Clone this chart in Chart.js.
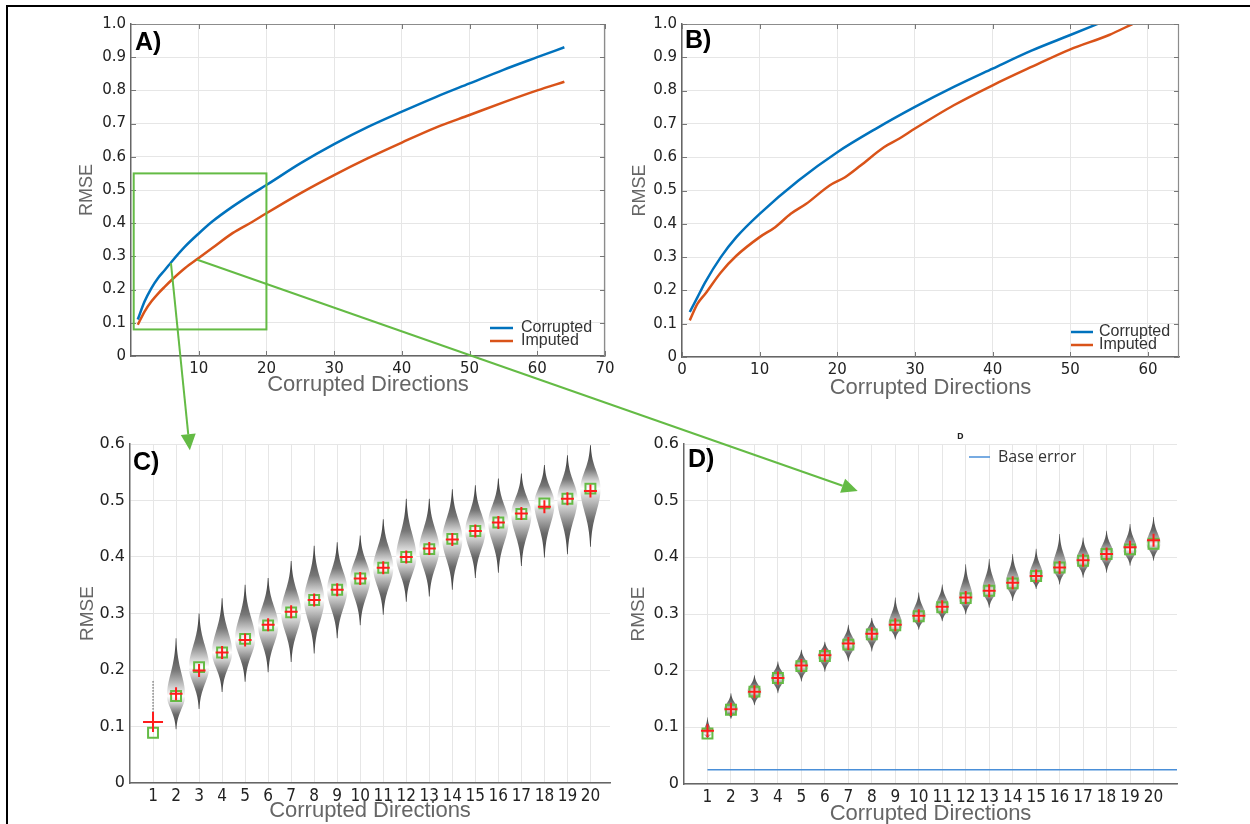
<!DOCTYPE html>
<html lang="en">
<head>
<meta charset="utf-8">
<title>RMSE vs Corrupted Directions</title>
<script src="https://cdn.jsdelivr.net/npm/chart.js@4.4.1/dist/chart.umd.min.js"></script>
<style>
  html, body { margin: 0; padding: 0; background: #fff; }
  body { position: relative; width: 1250px; height: 824px; overflow: hidden; }
  canvas { position: absolute; }
  .frame-top { position: absolute; left: 6px; top: 5px; width: 1244px; height: 2px; background: #000; }
  .frame-left { position: absolute; left: 6px; top: 5px; width: 2px; height: 819px; background: #000; }
  #overlay { left: 0; top: 0; z-index: 5; pointer-events: none; }
</style>
</head>
<body>
<div class="frame-top"></div>
<div class="frame-left"></div>
<canvas id="chartA" width="562" height="396" style="left:60px;top:8px"></canvas>
<canvas id="chartB" width="583" height="396" style="left:612px;top:8px"></canvas>
<canvas id="chartC" width="565" height="402" style="left:60px;top:428px"></canvas>
<canvas id="chartD" width="583" height="402" style="left:612px;top:428px"></canvas>
<canvas id="overlay" width="1250" height="824"></canvas>
<script>
// Datos de los paneles A y B (curvas medias)
const seriesLabels = ['Corrupted', 'Imputed'];

const aDirections = [1, 2, 3, 4, 5, 6, 8, 10, 12, 15, 18, 20, 25, 30, 35, 40, 45, 50, 55, 60, 64];
const aCorrupted = [0.110, 0.164, 0.204, 0.235, 0.259, 0.284, 0.330, 0.369, 0.405, 0.450, 0.490, 0.515, 0.580, 0.638, 0.690, 0.736, 0.780, 0.821, 0.862, 0.900, 0.930];
const aImputed = [0.094, 0.134, 0.164, 0.188, 0.209, 0.229, 0.265, 0.295, 0.325, 0.370, 0.405, 0.430, 0.490, 0.545, 0.596, 0.643, 0.688, 0.726, 0.764, 0.800, 0.826];

const bDirCorrupted = [1, 2, 3, 5, 7, 10, 15, 20, 25, 30, 35, 40, 45, 50, 54];
const bCorrupted = [0.135, 0.180, 0.225, 0.300, 0.360, 0.430, 0.530, 0.615, 0.686, 0.751, 0.811, 0.866, 0.920, 0.967, 1.005];
const bDirImputed = [1, 2, 3, 5, 7, 10, 12, 14, 16, 19, 21, 23, 26, 28, 30, 35, 40, 45, 50, 55, 58];
const bImputed = [0.110, 0.160, 0.190, 0.254, 0.304, 0.360, 0.390, 0.430, 0.460, 0.515, 0.540, 0.575, 0.630, 0.656, 0.686, 0.756, 0.816, 0.871, 0.924, 0.967, 1.000];

// Datos de los paneles C y D (distribuciones por número de direcciones)
const directions = [1, 2, 3, 4, 5, 6, 7, 8, 9, 10, 11, 12, 13, 14, 15, 16, 17, 18, 19, 20];

const cMean = [0.089, 0.154, 0.205, 0.231, 0.255, 0.279, 0.302, 0.324, 0.342, 0.362, 0.381, 0.400, 0.414, 0.432, 0.446, 0.461, 0.476, 0.495, 0.503, 0.521];
const cMedian = [0.108, 0.158, 0.199, 0.231, 0.253, 0.280, 0.303, 0.324, 0.342, 0.362, 0.381, 0.400, 0.415, 0.431, 0.446, 0.461, 0.477, 0.489, 0.503, 0.517];
const cLow = [0.090, 0.095, 0.131, 0.161, 0.179, 0.196, 0.214, 0.229, 0.256, 0.279, 0.298, 0.321, 0.330, 0.342, 0.363, 0.372, 0.384, 0.399, 0.405, 0.418];
const cHigh = [0.180, 0.256, 0.300, 0.327, 0.351, 0.363, 0.393, 0.420, 0.426, 0.438, 0.467, 0.503, 0.503, 0.520, 0.527, 0.539, 0.548, 0.563, 0.580, 0.598];
const cDensity = [0.04, 0.9, 1, 1, 1, 1, 1, 1, 1, 1, 1, 1, 1, 1, 1, 1, 1, 1, 1, 1];

const dMean = [0.089, 0.131, 0.163, 0.187, 0.208, 0.226, 0.246, 0.264, 0.280, 0.296, 0.312, 0.328, 0.341, 0.354, 0.367, 0.382, 0.394, 0.406, 0.414, 0.424];
const dMedian = [0.094, 0.132, 0.163, 0.187, 0.209, 0.227, 0.248, 0.265, 0.281, 0.297, 0.313, 0.329, 0.341, 0.355, 0.367, 0.382, 0.395, 0.406, 0.418, 0.430];
const dLow = [0.080, 0.115, 0.139, 0.160, 0.181, 0.198, 0.216, 0.234, 0.255, 0.272, 0.287, 0.299, 0.311, 0.323, 0.344, 0.352, 0.364, 0.373, 0.385, 0.394];
const dHigh = [0.118, 0.160, 0.192, 0.216, 0.237, 0.251, 0.281, 0.293, 0.329, 0.338, 0.352, 0.388, 0.397, 0.406, 0.415, 0.441, 0.435, 0.447, 0.459, 0.471];
const dDensity = [0.6, 1, 1, 1, 1, 1, 1, 1, 1, 1, 1, 1, 1, 1, 1, 1, 1, 1, 1, 1];
const baseError = 0.025;

// Ejes
const aXTicks = [10, 20, 30, 40, 50, 60, 70];
const bXTicks = [0, 10, 20, 30, 40, 50, 60];
const abYTicks = [0, 0.1, 0.2, 0.3, 0.4, 0.5, 0.6, 0.7, 0.8, 0.9, 1.0];
const cdYTicks = [0, 0.1, 0.2, 0.3, 0.4, 0.5, 0.6];

// Zona ampliada en A y flechas hacia C y D (coordenadas de datos)
const zoomBox = { x: [0.4, 20], y: [0.08, 0.55] };
const arrowToC = { from: [5.9, 0.28], to: [2.6, 0.589] };
const arrowToD = { from: [9.8, 0.29], to: [7.4, 0.517] };

const blue = '#0072bd';
const orange = '#d95319';
const green = '#64bb45';
const red = '#ff1c1c';
const sans = '"Liberation Sans", Arial, Helvetica, sans-serif';

const fmtRmse = v => (v === 0 ? '0' : v.toFixed(1));

function axes(o) {
    return {
        x: {
            type: 'linear',
            min: o.xMin,
            max: o.xMax,
            afterBuildTicks: s => { s.ticks = o.xTicks.map(value => ({ value })); },
            afterFit: s => { s.height = o.xHeight; s.paddingLeft = 0; s.paddingRight = 0; },
            grid: { color: '#e6e6e6', drawTicks: false },
            border: { color: '#666', width: 1.5 },
            ticks: { padding: o.xTickPad, color: '#222', font: o.xFont, maxRotation: 0, autoSkip: false, callback: v => String(v) },
            title: {
                display: true, text: 'Corrupted Directions', color: '#666',
                font: { family: sans, size: 22 }, padding: { top: 0, bottom: o.xTitlePad }
            }
        },
        y: {
            type: 'linear',
            min: 0,
            max: o.yMax,
            afterBuildTicks: s => { s.ticks = o.yTicks.map(value => ({ value })); },
            afterFit: s => { s.width = o.yWidth; s.paddingTop = 0; s.paddingBottom = 0; },
            grid: { color: '#e6e6e6', drawTicks: false },
            border: { color: '#666', width: 1.5 },
            ticks: { padding: 5, color: '#222', font: o.yFont, autoSkip: false, callback: fmtRmse },
            title: {
                display: true, text: 'RMSE', color: '#666',
                font: { family: sans, size: o.yTitleSize }, padding: { top: o.yTitlePad, bottom: 0 }
            }
        }
    };
}

// Violines: contorno suavizado alrededor de la media y sombreado en gris
function drawViolins(ctx, area, x, y, v) {
    const unit = x.getPixelForValue(1) - x.getPixelForValue(0);
    ctx.save();
    ctx.beginPath();
    ctx.rect(area.left, area.top, area.width, area.height);
    ctx.clip();
    v.low.forEach((lo, i) => {
        const hi = v.high[i];
        const mid = v.center[i];
        const cx = x.getPixelForValue(v.cats[i]);
        const yLo = y.getPixelForValue(lo);
        const yHi = y.getPixelForValue(hi);
        if (v.density[i] < 0.1) {
            // muy pocos valores: puntos sueltos
            ctx.fillStyle = '#444';
            for (let py = yHi; py <= yLo; py += 3) ctx.fillRect(cx - 0.6, py, 1.2, 1.2);
            return;
        }
        const hw = v.halfWidth * unit * v.density[i];
        const sUp = (hi - mid) / 2.6;
        const sDn = (mid - lo) / 2.6;
        const pts = [];
        for (let k = 0; k <= 60; k++) {
            const val = lo + (hi - lo) * k / 60;
            const d = val - mid;
            const s = d > 0 ? sUp : sDn;
            pts.push([y.getPixelForValue(val), hw * Math.exp(-0.5 * (d / s) ** 2)]);
        }
        ctx.beginPath();
        pts.forEach(([py, w], k) => (k ? ctx.lineTo(cx + w, py) : ctx.moveTo(cx + w, py)));
        for (let k = pts.length - 1; k >= 0; k--) ctx.lineTo(cx - pts[k][1], pts[k][0]);
        ctx.closePath();
        const tc = (mid - lo) / (hi - lo);
        const g = ctx.createLinearGradient(0, yLo, 0, yHi);
        v.stops(tc).forEach(([p, c]) => g.addColorStop(Math.min(1, Math.max(0, p)), c));
        ctx.fillStyle = g;
        ctx.fill();
    });
    ctx.restore();
}

const decor = {
    id: 'decor',
    beforeDatasetsDraw(chart, args, o) {
        const { ctx, chartArea, scales: { x, y } } = chart;
        if (o.violins) drawViolins(ctx, chartArea, x, y, o.violins);
    },
    afterDatasetsDraw(chart, args, o) {
        const { ctx, chartArea: a, scales: { x, y } } = chart;
        ctx.save();
        if (o.frame) {
            // marco superior y derecho con marcas hacia dentro
            ctx.strokeStyle = '#8c8c8c';
            ctx.lineWidth = 1.2;
            ctx.beginPath();
            ctx.moveTo(a.left, a.top + 0.5);
            ctx.lineTo(a.right - 0.5, a.top + 0.5);
            ctx.lineTo(a.right - 0.5, a.bottom);
            ctx.stroke();
            ctx.strokeStyle = '#777';
            ctx.lineWidth = 1;
            ctx.beginPath();
            y.ticks.forEach(t => {
                const py = Math.round(y.getPixelForValue(t.value)) + 0.5;
                ctx.moveTo(a.left, py); ctx.lineTo(a.left + 5, py);
                ctx.moveTo(a.right, py); ctx.lineTo(a.right - 5, py);
            });
            x.ticks.forEach(t => {
                const px = Math.round(x.getPixelForValue(t.value)) + 0.5;
                ctx.moveTo(px, a.bottom); ctx.lineTo(px, a.bottom - 5);
                ctx.moveTo(px, a.top); ctx.lineTo(px, a.top + 5);
            });
            ctx.stroke();
        }
        if (o.box) {
            ctx.strokeStyle = green;
            ctx.lineWidth = 2;
            const x0 = x.getPixelForValue(o.box.x[0]);
            const x1 = x.getPixelForValue(o.box.x[1]);
            const y0 = y.getPixelForValue(o.box.y[0]);
            const y1 = y.getPixelForValue(o.box.y[1]);
            ctx.strokeRect(x0, y1, x1 - x0, y0 - y1);
        }
        if (o.legend) {
            const L = o.legend;
            const x0 = L.anchor === 'left' ? a.left + L.dx : a.right - L.dx;
            const y0 = L.anchor === 'left' ? a.top + L.dy : a.bottom - L.dy;
            ctx.font = L.font;
            ctx.textBaseline = 'middle';
            L.items.forEach((di, k) => {
                const ds = chart.data.datasets[di];
                const py = y0 + k * L.row;
                ctx.strokeStyle = ds.borderColor;
                ctx.lineWidth = L.lineWidth;
                ctx.beginPath();
                ctx.moveTo(x0, py);
                ctx.lineTo(x0 + L.len, py);
                ctx.stroke();
                ctx.fillStyle = '#333';
                ctx.fillText(ds.label, x0 + L.len + L.gap, py);
            });
        }
        if (o.note) {
            ctx.font = 'bold 9px "Open Sans", sans-serif';
            ctx.fillStyle = '#222';
            ctx.textBaseline = 'middle';
            ctx.fillText(o.note.text, a.left + o.note.dx, a.top + o.note.dy);
        }
        // letra del panel
        ctx.font = 'bold 25px ' + sans;
        ctx.fillStyle = '#000';
        ctx.textBaseline = 'alphabetic';
        ctx.fillText(o.letter, a.left + o.letterDx, a.top + o.letterDy);
        ctx.restore();
    }
};

function xy(xs, ys) {
    return xs.map((x, i) => ({ x, y: ys[i] }));
}

function lineDataset(label, xs, ys, color) {
    return {
        label,
        data: xy(xs, ys),
        showLine: true,
        borderColor: color,
        backgroundColor: color,
        borderWidth: 2.5,
        pointRadius: 0,
        cubicInterpolationMode: 'monotone'
    };
}

const baseOptions = {
    responsive: false,
    animation: false,
    events: [],
    plugins: { legend: { display: false }, tooltip: { enabled: false } }
};

const tickFontAB = { family: '"DejaVu Sans", sans-serif', size: 15 };

// Panel A
const chartA = new Chart(document.getElementById('chartA'), {
    type: 'scatter',
    data: {
        datasets: [
            lineDataset(seriesLabels[0], aDirections, aCorrupted, blue),
            lineDataset(seriesLabels[1], aDirections, aImputed, orange)
        ]
    },
    options: {
        ...baseOptions,
        layout: { padding: { top: 16, right: 17, left: 0, bottom: 0 } },
        scales: axes({
            xMin: 0, xMax: 70, xTicks: aXTicks, xHeight: 48, xTickPad: 4, xFont: tickFontAB, xTitlePad: 6,
            yMax: 1, yTicks: abYTicks, yWidth: 71, yFont: tickFontAB, yTitleSize: 18, yTitlePad: 16
        }),
        plugins: {
            ...baseOptions.plugins,
            decor: {
                letter: 'A)', letterDx: 4, letterDy: 26, frame: true, box: zoomBox,
                legend: { anchor: 'right', dx: 115, dy: 28, len: 23, gap: 8, row: 13, lineWidth: 2.5, items: [0, 1], font: '16px ' + sans }
            }
        }
    },
    plugins: [decor]
});

// Panel B
const chartB = new Chart(document.getElementById('chartB'), {
    type: 'scatter',
    data: {
        datasets: [
            lineDataset(seriesLabels[0], bDirCorrupted, bCorrupted, blue),
            lineDataset(seriesLabels[1], bDirImputed, bImputed, orange)
        ]
    },
    options: {
        ...baseOptions,
        layout: { padding: { top: 16, right: 16, left: 0, bottom: 0 } },
        scales: axes({
            xMin: 0, xMax: 64, xTicks: bXTicks, xHeight: 47, xTickPad: 4, xFont: tickFontAB, xTitlePad: 3,
            yMax: 1, yTicks: abYTicks, yWidth: 70, yFont: tickFontAB, yTitleSize: 18, yTitlePad: 17
        }),
        plugins: {
            ...baseOptions.plugins,
            decor: {
                letter: 'B)', letterDx: 3, letterDy: 24, frame: true,
                legend: { anchor: 'right', dx: 108, dy: 25, len: 22, gap: 6, row: 13, lineWidth: 2.5, items: [0, 1], font: '16px ' + sans }
            }
        }
    },
    plugins: [decor]
});

const tickFontCDx = { family: '"Liberation Sans Narrow", "DejaVu Sans Condensed", sans-serif', size: 17 };
const tickFontCDy = { family: '"DejaVu Sans", sans-serif', size: 16 };

function pointDatasets(median, mean, bigFirst) {
    return [
        {
            label: 'median',
            data: xy(directions, median),
            pointStyle: 'cross',
            pointRadius: c => (bigFirst && c.dataIndex === 0 ? 10 : 6.5),
            borderColor: red,
            borderWidth: 2,
            showLine: false
        },
        {
            label: 'mean',
            data: xy(directions, mean),
            pointStyle: 'rect',
            pointRadius: 7,
            borderColor: green,
            backgroundColor: 'rgba(0,0,0,0)',
            borderWidth: 2,
            showLine: false
        }
    ];
}

// Panel C
const chartC = new Chart(document.getElementById('chartC'), {
    type: 'scatter',
    data: { datasets: pointDatasets(cMedian, cMean, true) },
    options: {
        ...baseOptions,
        layout: { padding: { top: 16, right: 15, left: 0, bottom: 0 } },
        scales: axes({
            xMin: 0, xMax: 20.85, xTicks: directions, xHeight: 47, xTickPad: 3, xFont: tickFontCDx, xTitlePad: 6,
            yMax: 0.6, yTicks: cdYTicks, yWidth: 70, yFont: tickFontCDy, yTitleSize: 19, yTitlePad: 16
        }),
        plugins: {
            ...baseOptions.plugins,
            decor: {
                letter: 'C)', letterDx: 3, letterDy: 26,
                violins: {
                    cats: directions, low: cLow, high: cHigh, center: cMean, density: cDensity, halfWidth: 0.44,
                    stops: tc => [[0, '#3a3a3a'], [tc * 0.45, '#6a6a6a'], [tc - 0.07, '#d4d4d4'], [tc, '#ffffff'],
                                  [tc + 0.06, '#e0e0e0'], [tc + (1 - tc) * 0.45, '#777777'], [1, '#333333']]
                }
            }
        }
    },
    plugins: [decor]
});

// Panel D
const chartD = new Chart(document.getElementById('chartD'), {
    type: 'scatter',
    data: {
        datasets: [
            ...pointDatasets(dMedian, dMean, false),
            {
                label: 'Base error',
                data: [{ x: directions[0], y: baseError }, { x: 21, y: baseError }],
                showLine: true,
                borderColor: '#4a8fd8',
                borderWidth: 1.5,
                pointRadius: 0
            }
        ]
    },
    options: {
        ...baseOptions,
        layout: { padding: { top: 16, right: 18, left: 0, bottom: 0 } },
        scales: axes({
            xMin: 0, xMax: 21, xTicks: directions, xHeight: 46, xTickPad: 3, xFont: tickFontCDx, xTitlePad: 3,
            yMax: 0.6, yTicks: cdYTicks, yWidth: 72, yFont: tickFontCDy, yTitleSize: 19, yTitlePad: 15
        }),
        plugins: {
            ...baseOptions.plugins,
            decor: {
                letter: 'D)', letterDx: 4, letterDy: 23,
                note: { text: 'D', dx: 273, dy: -8 },
                legend: { anchor: 'left', dx: 285, dy: 13, len: 21, gap: 8, row: 0, lineWidth: 1.5, items: [2], font: '16px "Open Sans", sans-serif' },
                violins: {
                    cats: directions, low: dLow, high: dHigh, center: dMean, density: dDensity, halfWidth: 0.3,
                    stops: tc => [[0, '#444444'], [tc * 0.5, '#6e6e6e'], [tc - 0.08, '#bdbdbd'], [tc, '#f4f4f4'],
                                  [tc + 0.08, '#bdbdbd'], [tc + (1 - tc) * 0.5, '#6a6a6a'], [1, '#3c3c3c']]
                }
            }
        }
    },
    plugins: [decor]
});

// Flechas verdes desde el recuadro de A hacia C y D
function pagePoint(chart, p) {
    const c = chart.canvas;
    return [c.offsetLeft + chart.scales.x.getPixelForValue(p[0]), c.offsetTop + chart.scales.y.getPixelForValue(p[1])];
}

function drawArrow(ctx, from, to) {
    const [x0, y0] = from;
    const [x1, y1] = to;
    const ang = Math.atan2(y1 - y0, x1 - x0);
    const head = 16;
    const half = 7.5;
    const bx = x1 - head * Math.cos(ang);
    const by = y1 - head * Math.sin(ang);
    ctx.strokeStyle = green;
    ctx.fillStyle = green;
    ctx.lineWidth = 2;
    ctx.beginPath();
    ctx.moveTo(x0, y0);
    ctx.lineTo(bx, by);
    ctx.stroke();
    ctx.beginPath();
    ctx.moveTo(x1, y1);
    ctx.lineTo(bx + half * Math.sin(ang), by - half * Math.cos(ang));
    ctx.lineTo(bx - half * Math.sin(ang), by + half * Math.cos(ang));
    ctx.closePath();
    ctx.fill();
}

const overlay = document.getElementById('overlay').getContext('2d');
drawArrow(overlay, pagePoint(chartA, arrowToC.from), pagePoint(chartC, arrowToC.to));
drawArrow(overlay, pagePoint(chartA, arrowToD.from), pagePoint(chartD, arrowToD.to));
</script>
</body>
</html>
